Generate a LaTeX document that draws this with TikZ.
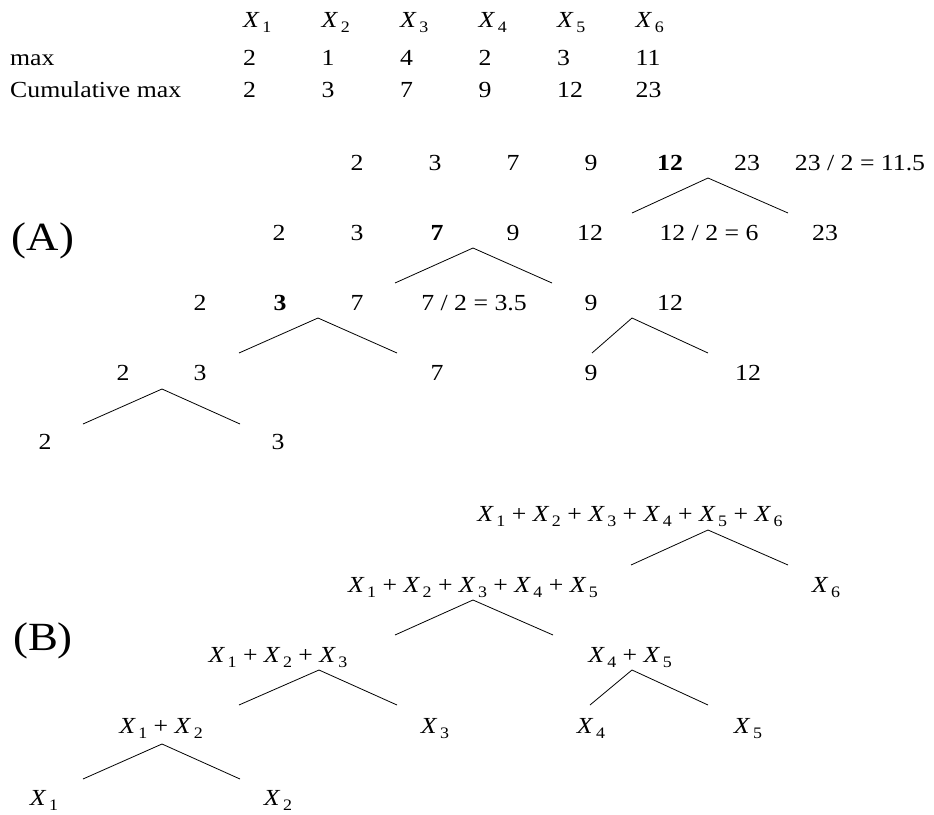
\documentclass[tikz,border=0pt]{standalone}
\usepackage{fontspec}
\setmainfont{Liberation Serif}[FakeStretch=1.12]
\usepackage{tikz}
\newcommand{\xv}[1]{\textit{X}\kern2.5pt\raisebox{-5pt}{\fontsize{16}{16}\selectfont #1}}

\begin{document}
\begin{tikzpicture}[x=1pt, y=-1pt,
    every node/.style={font=\fontsize{23}{27}\selectfont, inner sep=0pt},
    cell/.style={anchor=base west},
    num/.style={anchor=base},
    tag/.style={anchor=base, font=\fontsize{40}{44}\selectfont},
    branch/.style={line width=0.8pt}]
    \useasboundingbox (0,0) rectangle (934,814);

    % Table of maxima
    \node[cell] (lmax) at (10,65) {max};
    \node[cell] (lcum) at (10,97) {Cumulative max};
    \foreach \i/\m/\c in {1/2/2, 2/1/3, 3/4/7, 4/2/9, 5/3/12, 6/11/23} {
        \node[cell] (hx\i) at ({243+78.5*(\i-1)},27) {\xv{\i}};
        \node[cell] (mx\i) at ({243+78.5*(\i-1)},65) {\m};
        \node[cell] (cm\i) at ({243+78.5*(\i-1)},97) {\c};
    }

    % (A) splitting on the cumulative max
    \node[tag] (tagA) at (43,250) {(A)};
    \foreach \k/\x/\t in {1/357/2, 2/435/3, 3/513/7, 4/591/9, 5/670/\textbf{12}, 6/747/23}
        \node[num] (nA1-\k) at (\x,170) {\t};
    \node[num] (hA1) at (860,170) {23 / 2 = 11.5};
    \foreach \k/\x/\t in {1/279/2, 2/357/3, 3/437/\textbf{7}, 4/513/9, 5/590/12, 6/825/23}
        \node[num] (nA2-\k) at (\x,240) {\t};
    \node[num] (hA2) at (709,240) {12 / 2 = 6};
    \foreach \k/\x/\t in {1/200/2, 2/280/\textbf{3}, 3/357/7, 4/591/9, 5/670/12}
        \node[num] (nA3-\k) at (\x,310) {\t};
    \node[num] (hA3) at (474,310) {7 / 2 = 3.5};
    \foreach \k/\x/\t in {1/123/2, 2/200/3, 3/437/7, 4/591/9, 5/748/12}
        \node[num] (nA4-\k) at (\x,380) {\t};
    \foreach \k/\x/\t in {1/45/2, 2/278/3}
        \node[num] (nA5-\k) at (\x,449) {\t};

    % (B) the same splits on the sums
    \node[tag] (tagB) at (43,650) {(B)};
    \node[num] (nB1) at (630,521) {\xv{1} + \xv{2} + \xv{3} + \xv{4} + \xv{5} + \xv{6}};
    \node[num] (nB2-1) at (473,592) {\xv{1} + \xv{2} + \xv{3} + \xv{4} + \xv{5}};
    \node[num] (nB2-2) at (826,592) {\xv{6}};
    \node[num] (nB3-1) at (278,662) {\xv{1} + \xv{2} + \xv{3}};
    \node[num] (nB3-2) at (630,662) {\xv{4} + \xv{5}};
    \node[num] (nB4-1) at (161,733) {\xv{1} + \xv{2}};
    \node[num] (nB4-2) at (435,733) {\xv{3}};
    \node[num] (nB4-3) at (591,733) {\xv{4}};
    \node[num] (nB4-4) at (748,733) {\xv{5}};
    \node[num] (nB5-1) at (44,805) {\xv{1}};
    \node[num] (nB5-2) at (278,805) {\xv{2}};

    % Split lines
    \foreach \b/\x/\y/\l/\r in {sA1/708/178/632/788, sA2/473/248/395/552,
            sA3/318/318/239/397, sA4/632/318/592/708, sA5/162/389/83/240,
            sB1/708/530/631/788, sB2/473/600/395/553, sB3/319/670/239/397,
            sB4/632/670/590/708, sB5/162/744/83/240} {
        \coordinate (\b) at (\x,\y);
        \coordinate (\b-l) at (\l,\y+35);
        \coordinate (\b-r) at (\r,\y+35);
        \draw[branch] (\b-l) -- (\b) -- (\b-r);
    }
\end{tikzpicture}
\end{document}
